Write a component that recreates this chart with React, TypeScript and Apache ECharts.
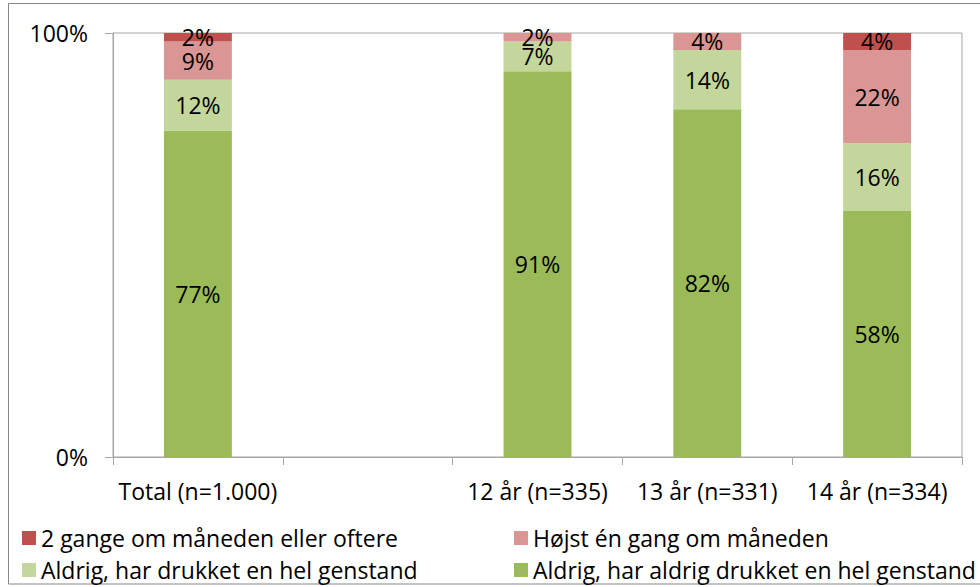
import React, { useEffect, useRef } from "react";
import * as echarts from "echarts";

const categories = ["Total (n=1.000)", "", "12 år (n=335)", "13 år (n=331)", "14 år (n=334)"];
const seriesNames = [
  "Aldrig, har aldrig drukket en hel genstand",
  "Aldrig, har drukket en hel genstand",
  "Højst én gang om måneden",
  "2 gange om måneden eller oftere",
];
const neverValues = [77, null, 91, 82, 58];
const triedValues = [12, null, 7, 14, 16];
const monthlyValues = [9, null, 2, 4, 22];
const oftenValues = [2, null, 0, 0, 4];
const colors = ["#9BBB59", "#C3D69B", "#D99694", "#C0504D"];
const yTicks = { min: 0, max: 100, interval: 100 };

const FONT = "Open Sans";
const FS = 23;

export default function App() {
  const ref = useRef<HTMLDivElement>(null);
  useEffect(() => {
    const chart = echarts.init(ref.current!, undefined, { renderer: "svg" });
    const all = [neverValues, triedValues, monthlyValues, oftenValues];
    const legendCommon = {
      orient: "vertical",
      icon: "rect",
      itemWidth: 14,
      itemHeight: 14,
      itemGap: 0,
      padding: 0,
      top: 522,
      textStyle: { fontFamily: FONT, fontSize: FS, color: "#000", lineHeight: 32 },
      selectedMode: false,
    };
    chart.setOption({
      animation: false,
      backgroundColor: "#ffffff",
      textStyle: { fontFamily: FONT },
      grid: {
        left: 113,
        right: 18,
        top: 33,
        bottom: 130,
        show: true,
        borderColor: "#a6a6a6",
        borderWidth: 1,
      },
      graphic: [
        {
          type: "rect",
          shape: { x: 8.5, y: 3.5, width: 980, height: 580.5 },
          style: { fill: "none", stroke: "#878787", lineWidth: 1 },
          silent: true,
        },
      ],
      legend: [
        { ...legendCommon, left: 22, data: [seriesNames[3], seriesNames[1]] },
        { ...legendCommon, left: 514, data: [seriesNames[2], seriesNames[0]] },
      ],
      xAxis: {
        type: "category",
        data: categories,
        axisLine: { lineStyle: { color: "#a6a6a6" } },
        axisTick: { show: true, length: 8, interval: 0, lineStyle: { color: "#a6a6a6" } },
        axisLabel: { interval: 0, color: "#000", fontFamily: FONT, fontSize: FS, margin: 22 },
      },
      yAxis: {
        type: "value",
        min: yTicks.min,
        max: yTicks.max,
        interval: yTicks.interval,
        axisLine: { show: true, lineStyle: { color: "#a6a6a6" } },
        axisTick: { show: true, length: 8, lineStyle: { color: "#a6a6a6" } },
        splitLine: { show: false },
        axisLabel: { formatter: "{value}%", color: "#000", fontFamily: FONT, fontSize: FS, margin: 25 },
      },
      series: all.map((vals, i) => ({
        name: seriesNames[i],
        type: "bar",
        stack: "total",
        barWidth: "40%",
        data: vals,
        itemStyle: { color: colors[i] },
        label: {
          show: true,
          position: "inside",
          color: "#000",
          fontFamily: FONT,
          fontSize: FS,
          formatter: (p: any) => (p.value ? p.value + "%" : ""),
        },
      })),
    });
    return () => chart.dispose();
  }, []);
  return (
    <div
      ref={ref}
      style={{ position: "absolute", left: 0, top: 0, width: 980, height: 587 }}
    />
  );
}
